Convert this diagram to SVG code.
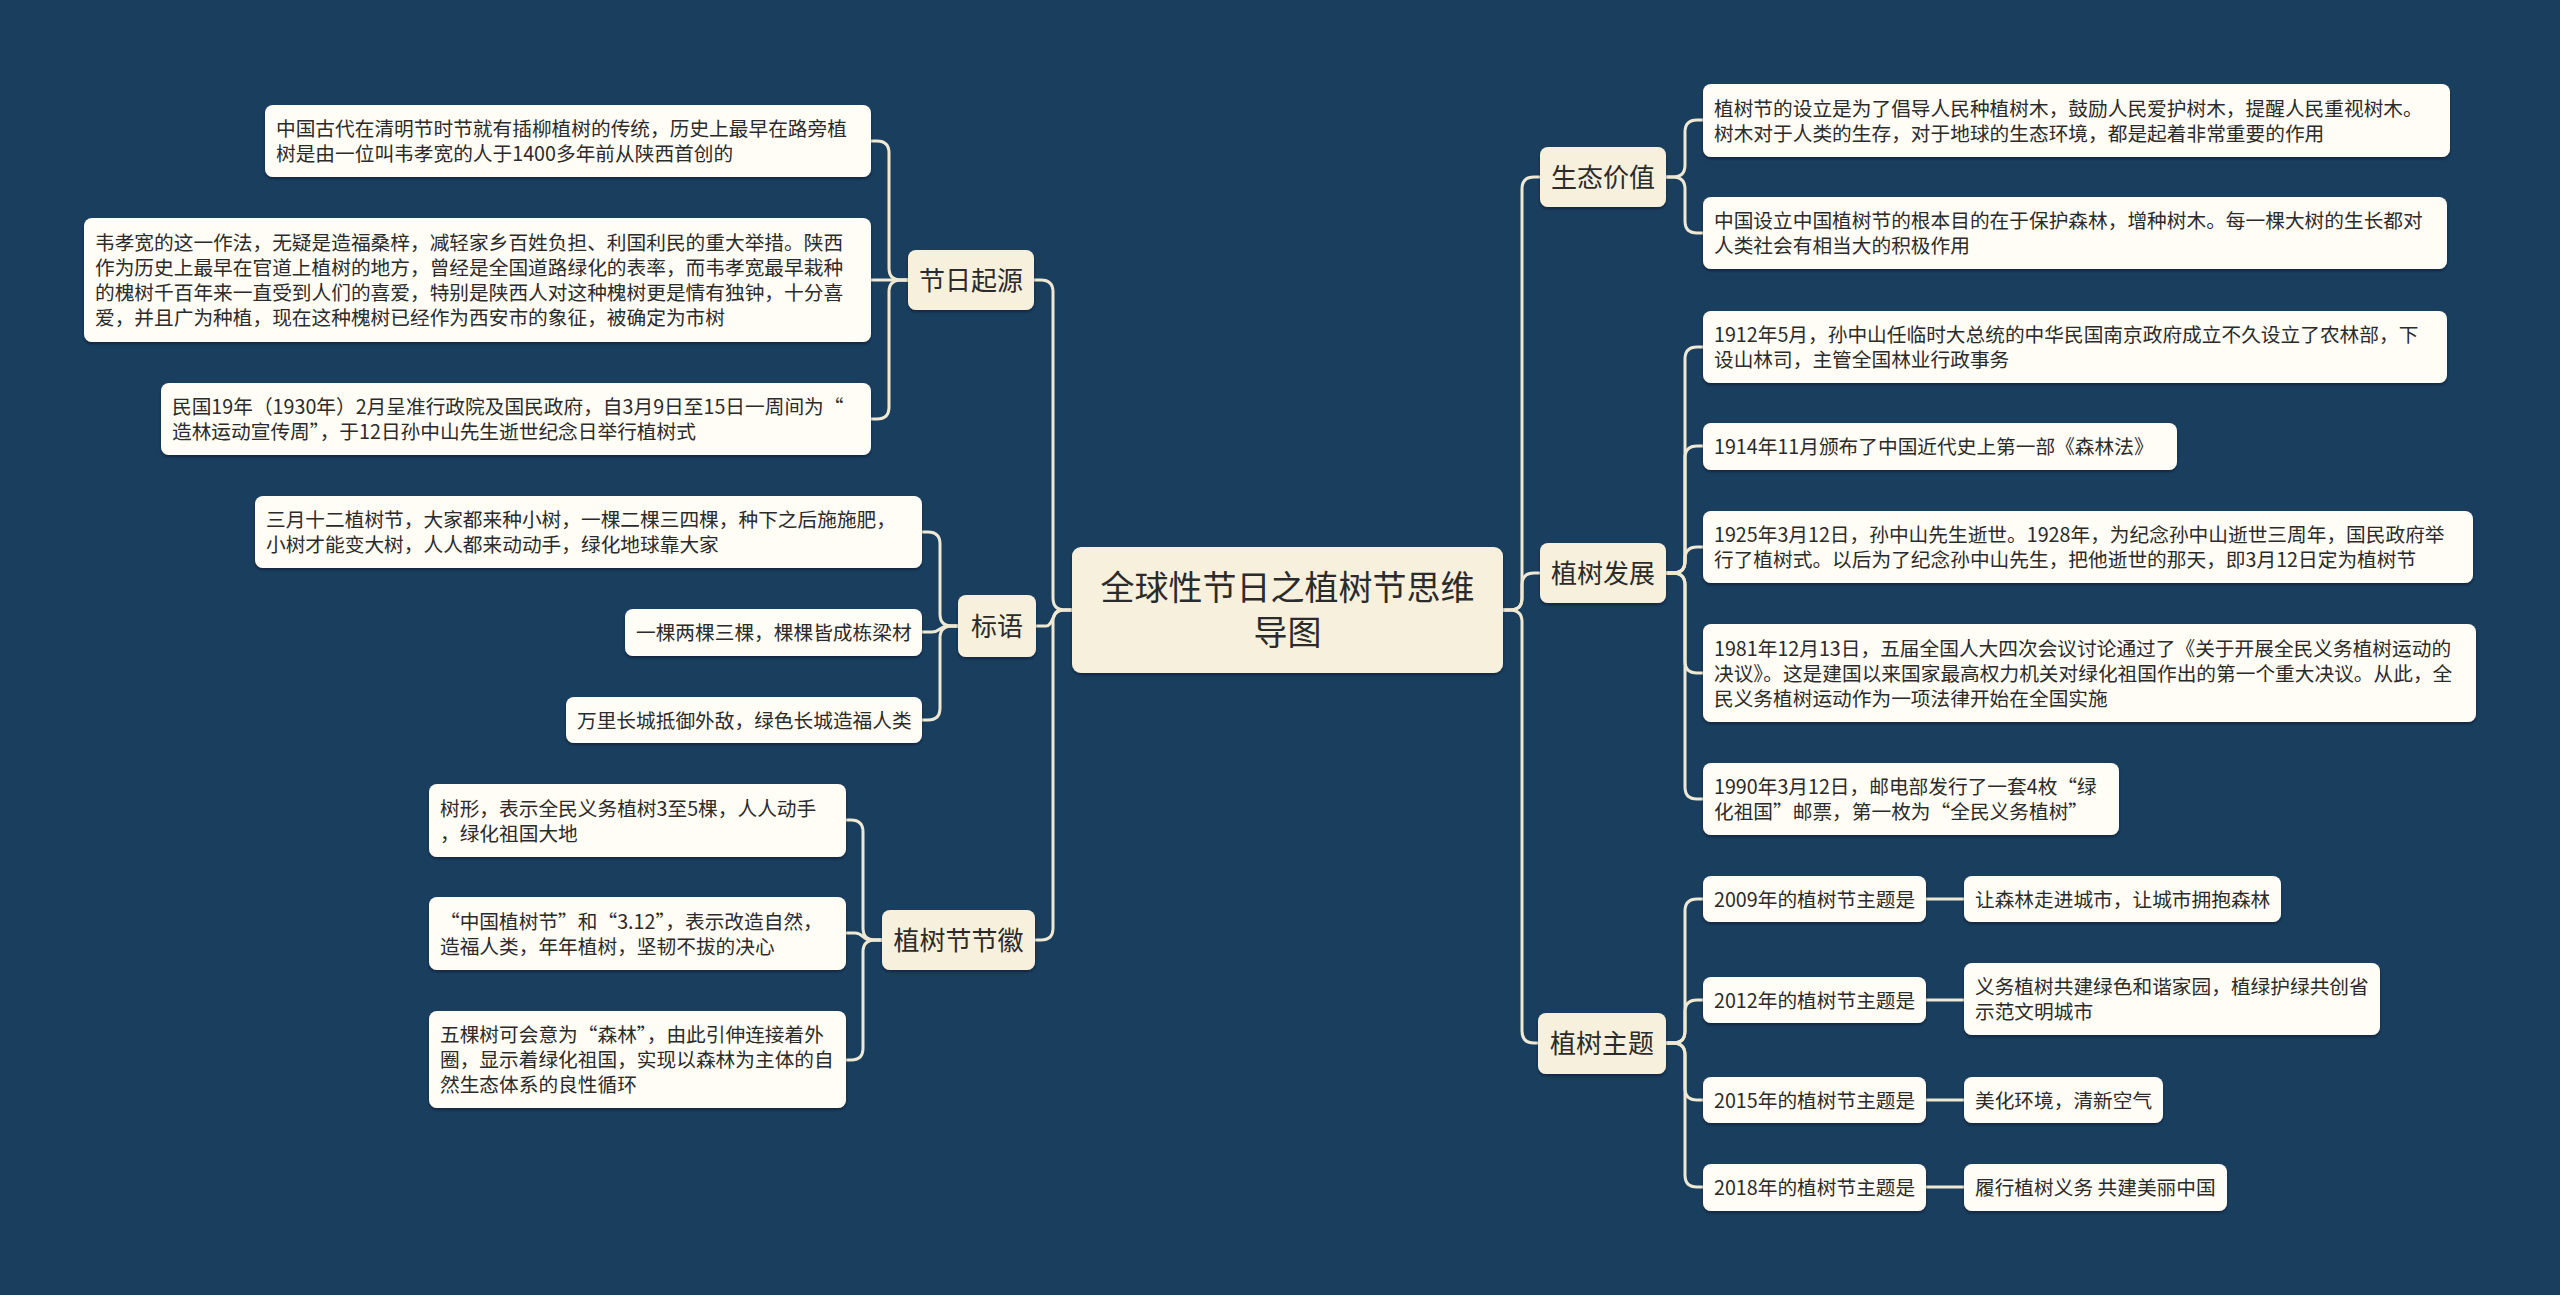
<svg xmlns="http://www.w3.org/2000/svg" width="2560" height="1295" viewBox="0 0 2560 1295">
<style>
.bg{fill:#1a3e5e}
.leaf{fill:#fffdf5;filter:url(#sh)}
.main{fill:#f6f0dc;filter:url(#sh)}
.t{font-family:"Noto Sans CJK SC","Noto Sans",sans-serif;font-size:19.7px;fill:#2b2b2b}
.m{font-family:"Noto Sans CJK SC","Noto Sans",sans-serif;font-size:26px;fill:#2b2b2b;text-anchor:middle}
.c{font-family:"Noto Sans CJK SC","Noto Sans",sans-serif;font-size:34px;fill:#2b2b2b;text-anchor:middle}
#links path{fill:none;stroke:#efe9d4;stroke-width:3;stroke-linecap:round;stroke-linejoin:round}
</style>
<defs>
<filter id="sh" x="-5%" y="-10%" width="110%" height="130%">
<feDropShadow dx="0" dy="2" stdDeviation="1.2" flood-color="#0a1f33" flood-opacity="0.7"/>
</filter>
</defs>
<rect class="bg" x="0" y="0" width="2560" height="1295"/>
<g id="links">
<path d="M1072 610 H1065 Q1053 610 1053 598 V292 Q1053 280 1041 280 H1034"/>
<path d="M1072 610 H1060 C1053 610 1053 626 1046 626 H1036"/>
<path d="M1072 610 H1065 Q1053 610 1053 622 V928 Q1053 940 1041 940 H1035"/>
<path d="M908 280 H901 Q889 280 889 268 V153 Q889 141 877 141 H871"/>
<path d="M908 280 H871"/>
<path d="M908 280 H901 Q889 280 889 292 V407 Q889 419 877 419 H871"/>
<path d="M958 626 H952 Q940 626 940 614 V544 Q940 532 928 532 H922"/>
<path d="M958 626 H948 C940 626 940 632 932 632 H922"/>
<path d="M958 626 H952 Q940 626 940 638 V708 Q940 720 928 720 H922"/>
<path d="M882 940 H875 Q863 940 863 928 V832 Q863 820 851 820 H846"/>
<path d="M882 940 H871 C863 940 863 933 855 933 H846"/>
<path d="M882 940 H875 Q863 940 863 952 V1048 Q863 1060 851 1060 H846"/>
<path d="M1503 610 H1510 Q1522 610 1522 598 V189 Q1522 177 1534 177 H1540"/>
<path d="M1503 610 H1510 Q1522 610 1522 598 V585 Q1522 573 1534 573 H1540"/>
<path d="M1503 610 H1510 Q1522 610 1522 622 V1031 Q1522 1043 1534 1043 H1538"/>
<path d="M1666 177 H1673 Q1685 177 1685 165 V132 Q1685 120 1697 120 H1703"/>
<path d="M1666 177 H1673 Q1685 177 1685 189 V221 Q1685 233 1697 233 H1703"/>
<path d="M1666 573 H1673 Q1685 573 1685 561 V359 Q1685 347 1697 347 H1703"/>
<path d="M1666 573 H1673 Q1685 573 1685 561 V458 Q1685 446 1697 446 H1703"/>
<path d="M1666 573 H1673 Q1685 573 1685 561 V559 Q1685 547 1697 547 H1703"/>
<path d="M1666 573 H1673 Q1685 573 1685 585 V661 Q1685 673 1697 673 H1703"/>
<path d="M1666 573 H1673 Q1685 573 1685 585 V787 Q1685 799 1697 799 H1703"/>
<path d="M1666 1043 H1673 Q1685 1043 1685 1031 V911 Q1685 899 1697 899 H1703"/>
<path d="M1666 1043 H1673 Q1685 1043 1685 1031 V1012 Q1685 1000 1697 1000 H1703"/>
<path d="M1666 1043 H1673 Q1685 1043 1685 1055 V1088 Q1685 1100 1697 1100 H1703"/>
<path d="M1666 1043 H1673 Q1685 1043 1685 1055 V1175 Q1685 1187 1697 1187 H1703"/>
<path d="M1926 899 H1964"/>
<path d="M1926 1000 H1964"/>
<path d="M1926 1100 H1964"/>
<path d="M1926 1187 H1964"/>
</g>
<g id="center">
<rect class="main" x="1072" y="547" width="431" height="126" rx="9"/>
<text class="c" x="1287.5" y="600">全球性节日之植树节思维</text>
<text class="c" x="1287.5" y="645">导图</text>
</g>
<g id="jieri">
<rect class="main" x="908" y="250" width="126" height="60" rx="8"/>
<text class="m" x="971" y="290">节日起源</text>
</g>
<g id="biaoyu">
<rect class="main" x="958" y="595" width="78" height="62" rx="8"/>
<text class="m" x="997" y="636">标语</text>
</g>
<g id="jiehui">
<rect class="main" x="882" y="910" width="153" height="60" rx="8"/>
<text class="m" x="958.5" y="950">植树节节徽</text>
</g>
<g id="shengtai">
<rect class="main" x="1540" y="147" width="126" height="60" rx="8"/>
<text class="m" x="1603" y="187">生态价值</text>
</g>
<g id="fazhan">
<rect class="main" x="1540" y="543" width="126" height="60" rx="8"/>
<text class="m" x="1603" y="583">植树发展</text>
</g>
<g id="zhuti">
<rect class="main" x="1538" y="1013" width="128" height="61" rx="8"/>
<text class="m" x="1602" y="1053">植树主题</text>
</g>
<g id="a1">
<rect class="leaf" x="265" y="105" width="606" height="72" rx="8"/>
<text class="t" x="276" y="136">中国古代在清明节时节就有插柳植树的传统，历史上最早在路旁植</text>
<text class="t" x="276" y="161">树是由一位叫韦孝宽的人于1400多年前从陕西首创的</text>
</g>
<g id="a2">
<rect class="leaf" x="84" y="218" width="787" height="124" rx="8"/>
<text class="t" x="95" y="250">韦孝宽的这一作法，无疑是造福桑梓，减轻家乡百姓负担、利国利民的重大举措。陕西</text>
<text class="t" x="95" y="275">作为历史上最早在官道上植树的地方，曾经是全国道路绿化的表率，而韦孝宽最早栽种</text>
<text class="t" x="95" y="300">的槐树千百年来一直受到人们的喜爱，特别是陕西人对这种槐树更是情有独钟，十分喜</text>
<text class="t" x="95" y="325">爱，并且广为种植，现在这种槐树已经作为西安市的象征，被确定为市树</text>
</g>
<g id="a3">
<rect class="leaf" x="161" y="383" width="710" height="72" rx="8"/>
<text class="t" x="172" y="414">民国19年（1930年）2月呈准行政院及国民政府，自3月9日至15日一周间为“</text>
<text class="t" x="172" y="439">造林运动宣传周”，于12日孙中山先生逝世纪念日举行植树式</text>
</g>
<g id="b1">
<rect class="leaf" x="255" y="496" width="667" height="72" rx="8"/>
<text class="t" x="266" y="527">三月十二植树节，大家都来种小树，一棵二棵三四棵，种下之后施施肥，</text>
<text class="t" x="266" y="552">小树才能变大树，人人都来动动手，绿化地球靠大家</text>
</g>
<g id="b2">
<rect class="leaf" x="625" y="609" width="297" height="47" rx="8"/>
<text class="t" x="636" y="640">一棵两棵三棵，棵棵皆成栋梁材</text>
</g>
<g id="b3">
<rect class="leaf" x="566" y="697" width="356" height="46" rx="8"/>
<text class="t" x="577" y="727.5">万里长城抵御外敌，绿色长城造福人类</text>
</g>
<g id="c1">
<rect class="leaf" x="429" y="784" width="417" height="73" rx="8"/>
<text class="t" x="440" y="815.5">树形，表示全民义务植树3至5棵，人人动手</text>
<text class="t" x="440" y="840.5">，绿化祖国大地</text>
</g>
<g id="c2">
<rect class="leaf" x="429" y="897" width="417" height="73" rx="8"/>
<text class="t" x="440" y="928.5">“中国植树节”和“3.12”，表示改造自然，</text>
<text class="t" x="440" y="953.5">造福人类，年年植树，坚韧不拔的决心</text>
</g>
<g id="c3">
<rect class="leaf" x="429" y="1011" width="417" height="97" rx="8"/>
<text class="t" x="440" y="1042">五棵树可会意为“森林”，由此引伸连接着外</text>
<text class="t" x="440" y="1067">圈，显示着绿化祖国，实现以森林为主体的自</text>
<text class="t" x="440" y="1092">然生态体系的良性循环</text>
</g>
<g id="d1">
<rect class="leaf" x="1703" y="84" width="747" height="73" rx="8"/>
<text class="t" x="1714" y="115.5">植树节的设立是为了倡导人民种植树木，鼓励人民爱护树木，提醒人民重视树木。</text>
<text class="t" x="1714" y="140.5">树木对于人类的生存，对于地球的生态环境，都是起着非常重要的作用</text>
</g>
<g id="d2">
<rect class="leaf" x="1703" y="197" width="744" height="72" rx="8"/>
<text class="t" x="1714" y="228">中国设立中国植树节的根本目的在于保护森林，增种树木。每一棵大树的生长都对</text>
<text class="t" x="1714" y="253">人类社会有相当大的积极作用</text>
</g>
<g id="e1">
<rect class="leaf" x="1703" y="311" width="744" height="72" rx="8"/>
<text class="t" x="1714" y="342">1912年5月，孙中山任临时大总统的中华民国南京政府成立不久设立了农林部，下</text>
<text class="t" x="1714" y="367">设山林司，主管全国林业行政事务</text>
</g>
<g id="e2">
<rect class="leaf" x="1703" y="423" width="474" height="47" rx="8"/>
<text class="t" x="1714" y="454">1914年11月颁布了中国近代史上第一部《森林法》</text>
</g>
<g id="e3">
<rect class="leaf" x="1703" y="511" width="770" height="72" rx="8"/>
<text class="t" x="1714" y="542">1925年3月12日，孙中山先生逝世。1928年，为纪念孙中山逝世三周年，国民政府举</text>
<text class="t" x="1714" y="567">行了植树式。以后为了纪念孙中山先生，把他逝世的那天，即3月12日定为植树节</text>
</g>
<g id="e4">
<rect class="leaf" x="1703" y="624" width="773" height="98" rx="8"/>
<text class="t" x="1714" y="655.5">1981年12月13日，五届全国人大四次会议讨论通过了《关于开展全民义务植树运动的</text>
<text class="t" x="1714" y="680.5">决议》。这是建国以来国家最高权力机关对绿化祖国作出的第一个重大决议。从此，全</text>
<text class="t" x="1714" y="705.5">民义务植树运动作为一项法律开始在全国实施</text>
</g>
<g id="e5">
<rect class="leaf" x="1703" y="763" width="416" height="72" rx="8"/>
<text class="t" x="1714" y="794">1990年3月12日，邮电部发行了一套4枚“绿</text>
<text class="t" x="1714" y="819">化祖国”邮票，第一枚为“全民义务植树”</text>
</g>
<g id="f1">
<rect class="leaf" x="1703" y="876" width="223" height="46" rx="8"/>
<text class="t" x="1714" y="906.5">2009年的植树节主题是</text>
</g>
<g id="f2">
<rect class="leaf" x="1703" y="977" width="223" height="46" rx="8"/>
<text class="t" x="1714" y="1007.5">2012年的植树节主题是</text>
</g>
<g id="f3">
<rect class="leaf" x="1703" y="1077" width="223" height="46" rx="8"/>
<text class="t" x="1714" y="1107.5">2015年的植树节主题是</text>
</g>
<g id="f4">
<rect class="leaf" x="1703" y="1164" width="223" height="47" rx="8"/>
<text class="t" x="1714" y="1195">2018年的植树节主题是</text>
</g>
<g id="g1">
<rect class="leaf" x="1964" y="876" width="317" height="46" rx="8"/>
<text class="t" x="1975" y="906.5">让森林走进城市，让城市拥抱森林</text>
</g>
<g id="g2">
<rect class="leaf" x="1964" y="963" width="416" height="72" rx="8"/>
<text class="t" x="1975" y="994">义务植树共建绿色和谐家园，植绿护绿共创省</text>
<text class="t" x="1975" y="1019">示范文明城市</text>
</g>
<g id="g3">
<rect class="leaf" x="1964" y="1077" width="199" height="46" rx="8"/>
<text class="t" x="1975" y="1107.5">美化环境，清新空气</text>
</g>
<g id="g4">
<rect class="leaf" x="1964" y="1164" width="263" height="47" rx="8"/>
<text class="t" x="1975" y="1195">履行植树义务 共建美丽中国</text>
</g>
</svg>
